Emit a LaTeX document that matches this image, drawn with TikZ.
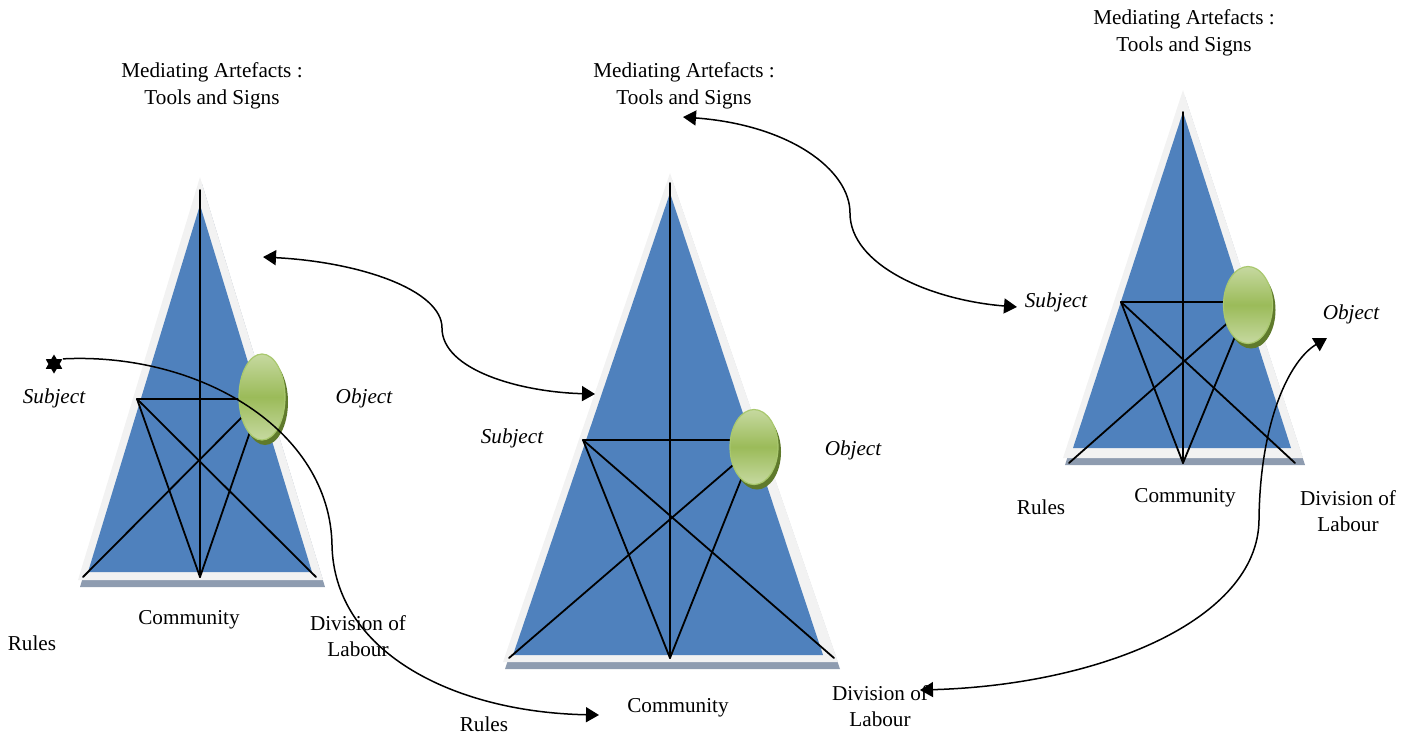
\documentclass[tikz,border=0pt]{standalone}
\usepackage{fontspec}
\setmainfont{Liberation Serif}
\usetikzlibrary{arrows.meta,shapes.geometric,shadows}
\definecolor{triblue}{HTML}{4F81BD}
\definecolor{bevel}{HTML}{F2F2F2}
\definecolor{basegray}{HTML}{8E9CB0}
\definecolor{ovalmid}{HTML}{9BBB59}
\definecolor{ovallight}{HTML}{C6D9A0}
\definecolor{ovaldark}{HTML}{5F7A2C}
\definecolor{ovalline}{HTML}{A9C86E}

\begin{document}
\begin{tikzpicture}[x=0.5pt, y=-0.5pt,
        outer/.style={fill=bevel},
        baseshade/.style={fill=basegray},
        inner/.style={fill=triblue},
        link/.style={line width=0.9pt, line cap=round},
        oval/.style={ellipse, draw=ovalline, line width=0.6pt, inner sep=0pt, top color=ovallight, bottom color=ovallight, middle color=ovalmid, drop shadow={shadow xshift=1.5pt, shadow yshift=-2.5pt, fill=ovaldark, opacity=1}},
        lbl/.style={font=\fontsize{10.6}{13.2}\selectfont, align=center},
        role/.style={font=\fontsize{10.6}{13.2}\selectfont\itshape},
        swing/.style={line width=0.75pt, {Triangle[length=6.5pt,width=7.5pt]}-{Triangle[length=6.5pt,width=7.5pt]}},
        sweep/.style={line width=0.75pt, -{Triangle[length=6.5pt,width=7.5pt]}}
    ]
    \useasboundingbox (0,0) rectangle (1414,735);

    % Left activity system
    \fill[baseshade] (202,184) -- (325,587) -- (80,587) -- cycle;
    \fill[outer] (200,177) -- (323,580) -- (78,580) -- cycle;
    \fill[inner] (200,205) -- (312,572) -- (88,572) -- cycle;
    \coordinate (tL) at (200,190);
    \coordinate (sL) at (137,399);
    \coordinate (oL) at (262,397);
    \coordinate (rL) at (83,577);
    \coordinate (cL) at (200,577);
    \coordinate (dL) at (316,577);
    \draw[link] (tL) -- (cL);
    \draw[link] (sL) -- (sL -| oL);
    \draw[link] (sL) -- (cL);
    \draw[link] (sL) -- (dL);
    \draw[link] (rL) -- (oL);
    \draw[link] (cL) -- (oL);
    \node[oval, minimum width=23pt, minimum height=43pt] (ovalL) at (oL) {};

    \node[lbl] (toolsL) at (212,86) {Mediating Artefacts :\\Tools and Signs};
    \node[role] (subjectL) at (54,398) {Subject};
    \node[role] (objectL) at (364,398) {Object};
    \node[lbl] (rulesL) at (32,643) {Rules};
    \node[lbl] (communityL) at (189,620) {Community};
    \node[lbl] (divisionL) at (358,636) {Division of\\Labour};

    % Middle activity system
    \fill[baseshade] (672,180) -- (840,669) -- (505,669) -- cycle;
    \fill[outer] (670,173) -- (838,662) -- (503,662) -- cycle;
    \fill[inner] (670,193) -- (823,655) -- (513,655) -- cycle;
    \coordinate (tM) at (670,183);
    \coordinate (sM) at (583,440);
    \coordinate (oM) at (754,447);
    \coordinate (rM) at (509,658);
    \coordinate (cM) at (670,658);
    \coordinate (dM) at (834,658);
    \draw[link] (tM) -- (cM);
    \draw[link] (sM) -- (sM -| oM);
    \draw[link] (sM) -- (cM);
    \draw[link] (sM) -- (dM);
    \draw[link] (rM) -- (oM);
    \draw[link] (cM) -- (oM);
    \node[oval, minimum width=24pt, minimum height=37.5pt] (ovalM) at (oM) {};

    \node[lbl] (toolsM) at (684,86) {Mediating Artefacts :\\Tools and Signs};
    \node[role] (subjectM) at (512,438) {Subject};
    \node[role] (objectM) at (853,450) {Object};
    \node[lbl] (rulesM) at (484,724) {Rules};
    \node[lbl] (communityM) at (678,708) {Community};
    \node[lbl] (divisionM) at (880,706) {Division of\\Labour};

    % Right activity system
    \fill[baseshade] (1185,97) -- (1305,465) -- (1065,465) -- cycle;
    \fill[outer] (1183,90) -- (1303,458) -- (1063,458) -- cycle;
    \fill[inner] (1183,112) -- (1291,448) -- (1073,448) -- cycle;
    \coordinate (tR) at (1183,112);
    \coordinate (sR) at (1121,302);
    \coordinate (oR) at (1248,305);
    \coordinate (rR) at (1069,463);
    \coordinate (cR) at (1183,463);
    \coordinate (dR) at (1295,463);
    \draw[link] (tR) -- (cR);
    \draw[link] (sR) -- (sR -| oR);
    \draw[link] (sR) -- (cR);
    \draw[link] (sR) -- (dR);
    \draw[link] (rR) -- (oR);
    \draw[link] (cR) -- (oR);
    \node[oval, minimum width=24.5pt, minimum height=38.5pt] (ovalR) at (oR) {};

    \node[lbl] (toolsR) at (1184,33) {Mediating Artefacts :\\Tools and Signs};
    \node[role] (subjectR) at (1056,302) {Subject};
    \node[role] (objectR) at (1351,314) {Object};
    \node[lbl] (rulesR) at (1041,507) {Rules};
    \node[lbl] (communityR) at (1185,498) {Community};
    \node[lbl] (divisionR) at (1348,511) {Division of\\Labour};

    % Connecting curves
    \coordinate (a1) at (263,257);
    \coordinate (a2) at (595,394);
    \coordinate (b1) at (683,117);
    \coordinate (b2) at (1017,307);
    \coordinate (c2) at (599,715);
    \coordinate (d1) at (920,690);
    \coordinate (d2) at (1327,338);
    \node[star, star points=6, star point ratio=1.7, fill=black, inner sep=0pt, minimum size=9.5pt] (starC) at (54,364) {};

    \draw[swing] (a1) .. controls (360,262) and (442,290) .. (442,328) .. controls (442,370) and (520,392) .. (a2);
    \draw[swing] (b1) .. controls (790,125) and (850,170) .. (850,213) .. controls (850,265) and (930,300) .. (b2);
    \draw[sweep] (starC.outer point 6) .. controls (200,352) and (330,430) .. (332,545) .. controls (334,650) and (450,712) .. (c2);
    \draw[swing] (d1) .. controls (1100,685) and (1258,620) .. (1259,520) .. controls (1260,420) and (1290,360) .. (d2);
\end{tikzpicture}
\end{document}
